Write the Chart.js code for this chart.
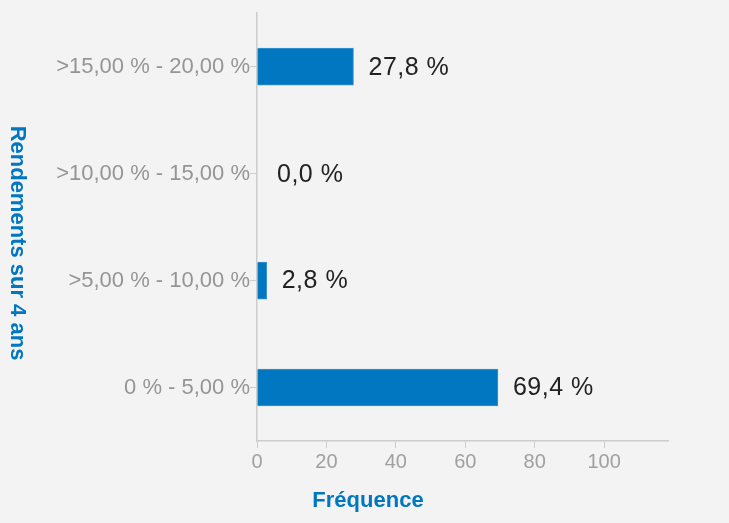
<!DOCTYPE html>
<html>
<head>
<meta charset="utf-8">
<script src="https://cdn.jsdelivr.net/npm/chart.js@4.4.0/dist/chart.umd.min.js"></script>
<style>
  html, body { margin: 0; padding: 0; background: #f3f3f3; }
  #wrap { width: 729px; height: 523px; }
</style>
</head>
<body>
<div id="wrap"><canvas id="rendChart"></canvas></div>
<script>
const categories = ['>15,00 % - 20,00 %', '>10,00 % - 15,00 %', '>5,00 % - 10,00 %', '0 % - 5,00 %'];
const frequencies = [27.8, 0.0, 2.8, 69.4];
const xTicks = [0, 20, 40, 60, 80, 100];

const fmt = v => v.toFixed(1).replace('.', ',') + ' %';

// value labels next to the bars + rotated / offset axis titles
const labelsPlugin = {
    id: 'labelsPlugin',
    afterDatasetsDraw(chart) {
        const ctx = chart.ctx;
        const meta = chart.getDatasetMeta(0);
        ctx.save();
        ctx.font = '25px "Liberation Sans", Arial, sans-serif';
        ctx.letterSpacing = '0.5px';
        ctx.fillStyle = '#222';
        ctx.textAlign = 'left';
        ctx.textBaseline = 'middle';
        meta.data.forEach((bar, i) => {
            const extra = frequencies[i] === 0 ? 5 : 0;
            ctx.fillText(fmt(frequencies[i]), bar.x + 15 + extra, bar.y + 1);
        });
        ctx.letterSpacing = '0px';
        ctx.font = 'bold 22px "Liberation Sans", Arial, sans-serif';
        ctx.fillStyle = '#0077c0';
        ctx.textAlign = 'center';
        ctx.fillText('Fréquence', 368, 501);
        ctx.translate(17, 243);
        ctx.rotate(Math.PI / 2);
        ctx.fillText('Rendements sur 4 ans', 0, 0);
        ctx.restore();
    }
};

new Chart(document.getElementById('rendChart'), {
    type: 'bar',
    data: {
        labels: categories,
        datasets: [{
            data: frequencies,
            backgroundColor: '#0077c0',
            borderColor: '#3d93cf',
            borderWidth: 1,
            barThickness: 37
        }]
    },
    options: {
        indexAxis: 'y',
        responsive: true, maintainAspectRatio: false,
        animation: false,
        layout: { padding: { left: 0, right: 61, top: 13, bottom: 52 } },
        plugins: { legend: { display: false }, tooltip: { enabled: false } },
        scales: {
            x: {
                min: 0, max: 118.4,
                afterFit: s => { s.height = 30; },
                afterBuildTicks: s => { s.ticks = xTicks.map(v => ({ value: v })); },
                grid: { display: true, drawOnChartArea: false, color: '#cccccc', tickLength: 7 },
                border: { color: '#cccccc', width: 1.5 },
                ticks: { color: '#a0a0a0', padding: 2, font: { size: 20, family: '"Liberation Sans", Arial, sans-serif' } }
            },
            y: {
                afterFit: s => { s.width = 257; },
                grid: { display: true, drawOnChartArea: false, color: '#cccccc', tickLength: 7, offset: false },
                border: { color: '#cccccc', width: 1.5 },
                ticks: { color: '#959595', padding: 0, font: { size: 22, family: '"Liberation Sans", Arial, sans-serif' } }
            }
        }
    },
    plugins: [labelsPlugin]
});
</script>
</body>
</html>
